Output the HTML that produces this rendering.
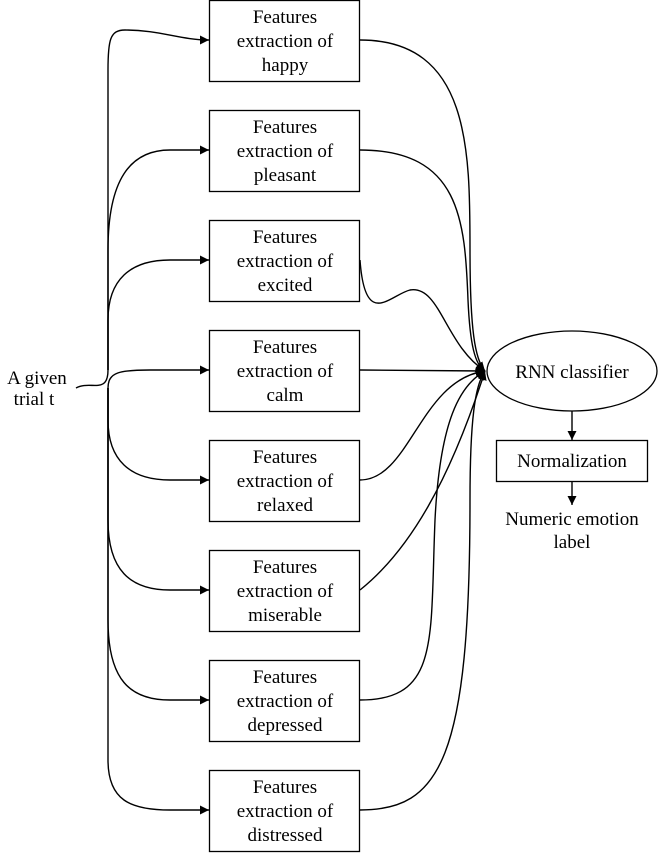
<!DOCTYPE html>
<html><head><style>
body{margin:0;background:#fff}
svg{display:block;font-family:"Liberation Serif",serif;font-size:19px}
</style></head><body>
<svg width="659" height="853" viewBox="0 0 659 853">
<defs><marker id="a" viewBox="0 0 10 10" refX="10" refY="5" markerWidth="9" markerHeight="9" markerUnits="userSpaceOnUse" orient="auto"><path d="M0,0L10,5L0,10z"/></marker></defs>
<g fill="none" stroke="#000" stroke-width="1.4" marker-end="url(#a)">
<path d="M76,388 C90,380 108,395 108,370 L108,70 C108,40 110,30 125,30 C160,30 180,40 209,40"/>
<path d="M108,370 L108,250 C108,180 130,150 170,150 L209,150"/>
<path d="M108,370 L108,320 C108,280 130,260 170,260 L209,260"/>
<path d="M108,388 C108,372 120,370 150,370 L209,370"/>
<path d="M108,388 L108,420 C108,460 130,480 170,480 L209,480"/>
<path d="M108,388 L108,520 C108,570 130,590 170,590 L209,590"/>
<path d="M108,388 L108,620 C108,680 130,700 170,700 L209,700"/>
<path d="M108,388 L108,760 C108,800 130,810 170,810 L209,810"/>
<path d="M360,40 C470,40 470,150 470,250 C470,330 475,360 485,371"/>
<path d="M360,150 C460,150 465,220 468,300 C470,345 475,365 485,371"/>
<path d="M360,260 C365,330 390,295 410,290 C440,285 445,345 485,371"/>
<path d="M360,370 L485,371"/>
<path d="M360,480 C410,480 420,380 485,371"/>
<path d="M360,590 C410,550 450,480 485,371"/>
<path d="M360,700 C440,700 430,640 435,520 C440,420 460,385 485,371"/>
<path d="M360,810 C440,810 470,760 470,500 C470,420 475,385 485,371"/>
<path d="M572,411 L572,440"/>
<path d="M572,481 L572,505"/>
</g>
<g fill="#fff" stroke="#000" stroke-width="1.3">
<rect x="209.5" y="0.5" width="150" height="81"/>
<rect x="209.5" y="110.5" width="150" height="81"/>
<rect x="209.5" y="220.5" width="150" height="81"/>
<rect x="209.5" y="330.5" width="150" height="81"/>
<rect x="209.5" y="440.5" width="150" height="81"/>
<rect x="209.5" y="550.5" width="150" height="81"/>
<rect x="209.5" y="660.5" width="150" height="81"/>
<rect x="209.5" y="770.5" width="150" height="81"/>
<ellipse cx="572" cy="371" rx="85" ry="40"/>
<rect x="496.5" y="440.5" width="151" height="41"/>
</g>
<g text-anchor="middle">
<text x="285" y="23">Features</text><text x="285" y="47">extraction of</text><text x="285" y="71">happy</text>
<text x="285" y="133">Features</text><text x="285" y="157">extraction of</text><text x="285" y="181">pleasant</text>
<text x="285" y="243">Features</text><text x="285" y="267">extraction of</text><text x="285" y="291">excited</text>
<text x="285" y="353">Features</text><text x="285" y="377">extraction of</text><text x="285" y="401">calm</text>
<text x="285" y="463">Features</text><text x="285" y="487">extraction of</text><text x="285" y="511">relaxed</text>
<text x="285" y="573">Features</text><text x="285" y="597">extraction of</text><text x="285" y="621">miserable</text>
<text x="285" y="683">Features</text><text x="285" y="707">extraction of</text><text x="285" y="731">depressed</text>
<text x="285" y="793">Features</text><text x="285" y="817">extraction of</text><text x="285" y="841">distressed</text>
<text x="572" y="378">RNN classifier</text>
<text x="572" y="467">Normalization</text>
<text x="572" y="525">Numeric emotion</text>
<text x="572" y="548">label</text>
<text x="37" y="384">A given</text>
<text x="34" y="405">trial t</text>
</g>
</svg>
</body></html>
